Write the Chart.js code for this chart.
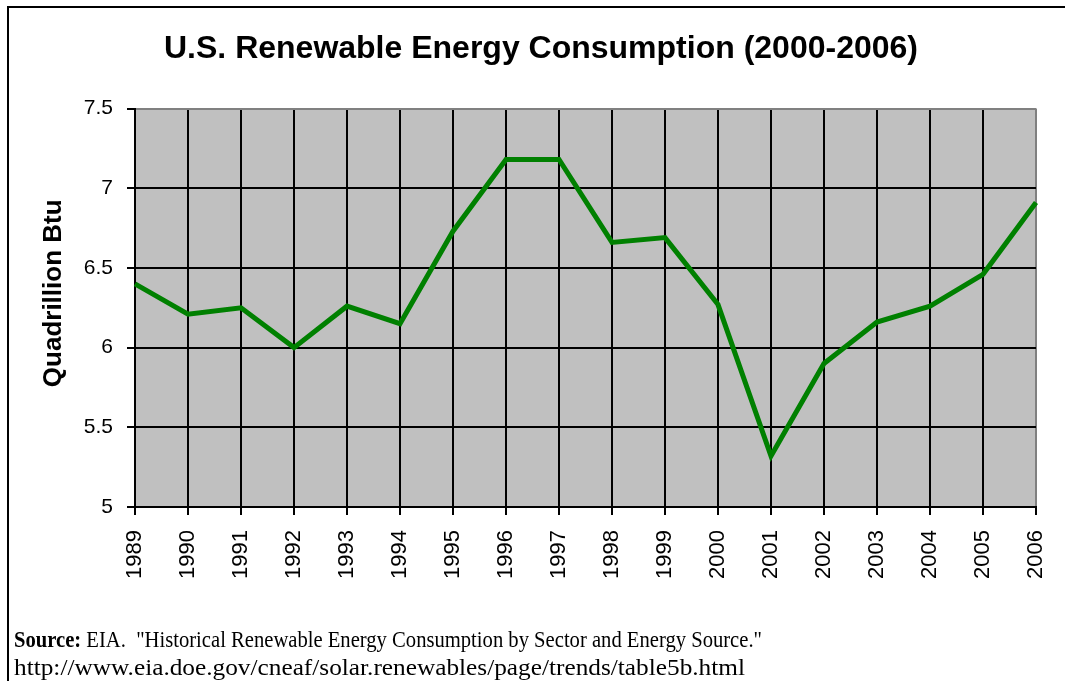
<!DOCTYPE html>
<html>
<head>
<meta charset="utf-8">
<script src="https://cdn.jsdelivr.net/npm/chart.js@4"></script>
<style>
  html, body { margin: 0; padding: 0; background: #fff; }
  #wrap { position: relative; width: 1065px; height: 681px; overflow: hidden; }
  canvas { position: absolute; left: 0; top: 0; }
  .src { position: absolute; left: 14px; font-family: "Liberation Serif", "Times New Roman", serif;
         font-size: 24px; line-height: 24px; color: #000; white-space: nowrap; transform-origin: 0 0; }
</style>
</head>
<body>
<div id="wrap">
  <canvas id="c" width="1065" height="681"></canvas>
  <div class="src" id="src1" style="top:627px;"><b>Source:</b> EIA.&nbsp; "Historical Renewable Energy Consumption by Sector and Energy Source."</div>
  <div class="src" id="src2" style="top:655px;">http://www.eia.doe.gov/cneaf/solar.renewables/page/trends/table5b.html</div>
</div>
<script>
const years = ["1989","1990","1991","1992","1993","1994","1995","1996","1997","1998","1999","2000","2001","2002","2003","2004","2005","2006"];
const consumption = [6.40, 6.21, 6.25, 6.00, 6.26, 6.15, 6.73, 7.18, 7.18, 6.66, 6.69, 6.27, 5.32, 5.90, 6.16, 6.26, 6.46, 6.91];
const titleText = "U.S. Renewable Energy Consumption (2000-2006)";
const yAxisTitle = "Quadrillion Btu";

// scale the source lines horizontally to match the condensed look
[["src1", 748], ["src2", 731]].forEach(([id, w]) => {
  const el = document.getElementById(id);
  const cur = el.getBoundingClientRect().width;
  el.style.transform = "scaleX(" + (w / cur) + ")";
});

const bgPlugin = {
  id: 'bg',
  beforeDraw(chart) {
    const {ctx, chartArea: a} = chart;
    ctx.save();
    ctx.fillStyle = '#C0C0C0';
    ctx.fillRect(a.left, a.top, a.right - a.left, a.bottom - a.top);
    ctx.strokeStyle = '#000';
    ctx.lineWidth = 2;
    ctx.strokeRect(8, 7, 2000, 2000);
    ctx.restore();
  }
};

new Chart(document.getElementById('c'), {
  type: 'line',
  data: {
    labels: years,
    datasets: [{
      data: consumption,
      borderColor: '#008000',
      borderWidth: 5,
      pointRadius: 0,
      pointHoverRadius: 0,
      tension: 0,
      fill: false
    }]
  },
  options: {
    responsive: false,
    animation: false,
    devicePixelRatio: 1,
    layout: { padding: { left: 46, right: 29, top: 0, bottom: 0 } },
    plugins: {
      legend: { display: false },
      tooltip: { enabled: false },
      title: {
        display: true,
        text: titleText,
        color: '#000',
        font: { family: "'Liberation Sans', Arial, sans-serif", size: 32, weight: 'bold', lineHeight: 1.2 },
        padding: { top: 30.1, bottom: 40 }
      }
    },
    scales: {
      x: {
        type: 'category',
        offset: false,
        grid: {
          offset: false,
          color: (ctx) => ctx.index === years.length - 1 ? '#808080' : '#000',
          tickColor: '#000',
          lineWidth: 2,
          tickLength: 8,
          drawTicks: true
        },
        border: { color: '#000', width: 2 },
        ticks: {
          color: '#000',
          autoSkip: false,
          minRotation: 90,
          maxRotation: 90,
          padding: 15,
          font: { family: "'Liberation Sans', Arial, sans-serif", size: 22 }
        },
        afterFit(scale) {
          scale.height = 174;
          scale.paddingRight = 0;
          scale.paddingLeft = 0;
        }
      },
      y: {
        min: 5,
        max: 7.5,
        grid: {
          color: (ctx) => (ctx.tick && ctx.tick.value === 7.5) ? '#808080' : '#000',
          tickColor: '#000',
          lineWidth: 2,
          tickLength: 8
        },
        border: { color: '#000', width: 2 },
        ticks: {
          stepSize: 0.5,
          color: '#000',
          padding: 14,
          callback: (v) => String(v),
          font: { family: "'Liberation Sans', Arial, sans-serif", size: 21 }
        },
        title: {
          display: true,
          text: "    " + yAxisTitle,
          color: '#000',
          padding: { top: -8, bottom: 0 },
          font: { family: "'Liberation Sans', Arial, sans-serif", size: 26, weight: 'bold', lineHeight: 1.2 }
        },
        afterFit(scale) { scale.width = 89; }
      }
    }
  },
  plugins: [bgPlugin]
});
</script>
</body>
</html>
